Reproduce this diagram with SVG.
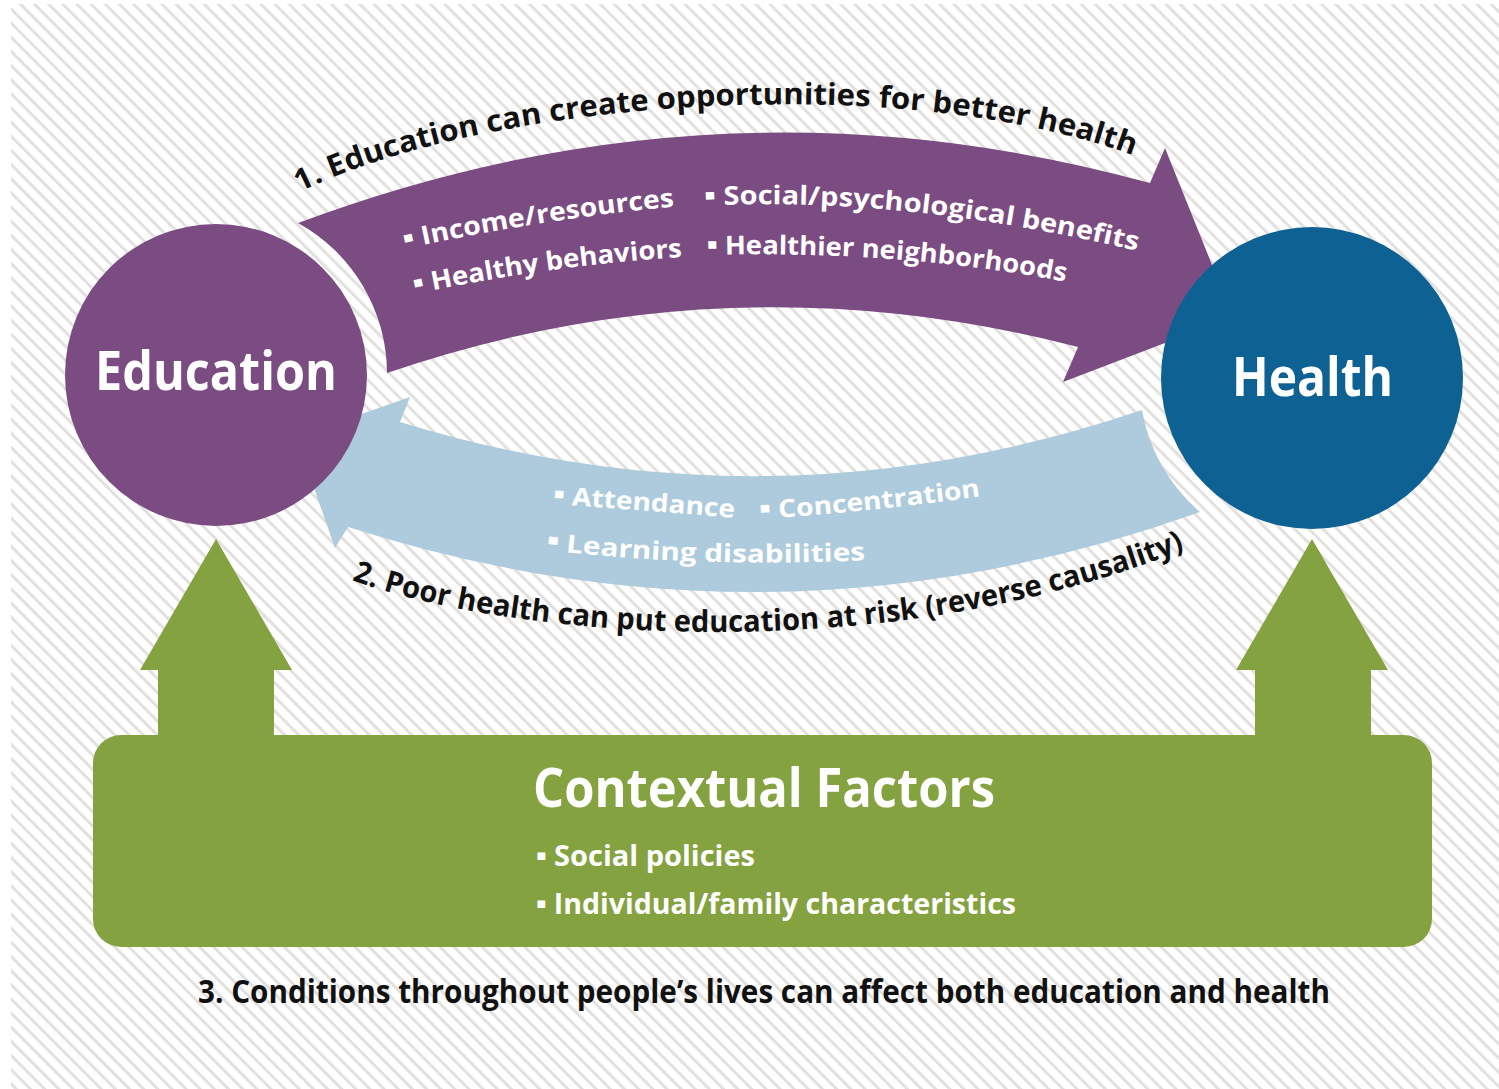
<svg xmlns="http://www.w3.org/2000/svg" width="1499" height="1089" viewBox="0 0 1499 1089">
<style>
  .t { font-family: "Open Sans", "Noto Sans", "DejaVu Sans", sans-serif; font-weight: 700; }
  .w { fill: #ffffff; }
  .k { fill: #111111; }
  .b { font-size: 15px; font-family: "DejaVu Sans", sans-serif; }
  .purple { fill: #7b4c81; }
  .blue { fill: #0e6193; }
  .light { fill: #adcbdc; }
  .green { fill: #84a23f; }
</style>
<defs>
  <pattern id="stripes" patternUnits="userSpaceOnUse" width="10" height="10" patternTransform="rotate(-45)">
    <rect x="0" y="0" width="3" height="10" fill="#e3e1df"/>
  </pattern>
  <path id="p1" d="M300,192 C 480,102 900,66 1140,158"/>
  <path id="p2" d="M352,580 C 500,635 880,675 1195,545"/>
  <path id="pa1" d="M405,249 Q 540,219 680,206"/>
  <path id="pa2" d="M705,206 Q 900,195 1138,251"/>
  <path id="pa3" d="M415,294 Q 550,265 684,257"/>
  <path id="pa4" d="M707,255 Q 900,250 1067,282"/>
  <path id="pb1" d="M553,504 Q 640,510 736,518"/>
  <path id="pb2" d="M760,519 Q 870,512 983,496"/>
  <path id="pb3" d="M546,550 Q 700,568 867,560"/>
</defs>
<rect x="0" y="0" width="1499" height="1089" fill="#ffffff"/>
<rect x="11" y="4" width="1488" height="1085" fill="url(#stripes)"/>

<g id="connectors">
  <g id="arrow-education-health">
    <path class="purple" d="M298,223 Q 720,65 1150,183 L 1165,148 L 1233,317 L 1063,382 L 1078,347 Q 728,256 387,373 A 172,172 0 0 0 298,223 Z"/>
    <text class="t w" font-size="26"><textPath href="#pa1" textLength="273" lengthAdjust="spacingAndGlyphs"><tspan class="b" dy="-6">▪</tspan><tspan dy="6"> Income/resources</tspan></textPath></text>
    <text class="t w" font-size="26"><textPath href="#pa2" textLength="436" lengthAdjust="spacingAndGlyphs"><tspan class="b" dy="-6">▪</tspan><tspan dy="6"> Social/psychological benefits</tspan></textPath></text>
    <text class="t w" font-size="26"><textPath href="#pa3" textLength="270" lengthAdjust="spacingAndGlyphs"><tspan class="b" dy="-6">▪</tspan><tspan dy="6"> Healthy behaviors</tspan></textPath></text>
    <text class="t w" font-size="26"><textPath href="#pa4" textLength="360" lengthAdjust="spacingAndGlyphs"><tspan class="b" dy="-6">▪</tspan><tspan dy="6"> Healthier neighborhoods</tspan></textPath></text>
    <text class="t k" font-size="30"><textPath href="#p1" textLength="850" lengthAdjust="spacingAndGlyphs">1. Education can create opportunities for better health</textPath></text>
  </g>
  <g id="arrow-health-education">
    <path class="light" d="M296,437 L 410,397 L 400,422 Q 771,536 1142,410 A 173,173 0 0 0 1200,512 Q 776,664 348,527 L 335,548 Z"/>
    <text class="t w" font-size="25"><textPath href="#pb1" textLength="182" lengthAdjust="spacingAndGlyphs"><tspan class="b" dy="-6">▪</tspan><tspan dy="6"> Attendance</tspan></textPath></text>
    <text class="t w" font-size="25"><textPath href="#pb2" textLength="222" lengthAdjust="spacingAndGlyphs"><tspan class="b" dy="-6">▪</tspan><tspan dy="6"> Concentration</tspan></textPath></text>
    <text class="t w" font-size="25"><textPath href="#pb3" textLength="320" lengthAdjust="spacingAndGlyphs"><tspan class="b" dy="-6">▪</tspan><tspan dy="6"> Learning disabilities</tspan></textPath></text>
    <text class="t k" font-size="30"><textPath href="#p2" textLength="848" lengthAdjust="spacingAndGlyphs">2. Poor health can put education at risk (reverse causality)</textPath></text>
  </g>
  <g id="arrow-context-education">
    <polygon class="green" points="158,737 158,670 140,670 216,539 292,670 274,670 274,737"/>
  </g>
  <g id="arrow-context-health">
    <polygon class="green" points="1255,737 1255,670 1236,670 1312,539 1388,670 1371,670 1371,737"/>
  </g>
</g>

<g id="node-education">
  <circle class="purple" cx="216" cy="375" r="151"/>
  <text class="t w" x="95" y="390" font-size="53" textLength="242" lengthAdjust="spacingAndGlyphs">Education</text>
</g>

<g id="node-health">
  <circle class="blue" cx="1312" cy="378" r="151"/>
  <text class="t w" x="1232" y="396" font-size="53" textLength="161" lengthAdjust="spacingAndGlyphs">Health</text>
</g>

<g id="node-contextual">
  <rect class="green" x="93" y="735" width="1339" height="212" rx="28" ry="28"/>
  <text class="t w" x="533" y="807" font-size="53" textLength="462" lengthAdjust="spacingAndGlyphs">Contextual Factors</text>
  <text class="t w" x="536" y="866" font-size="28" textLength="219" lengthAdjust="spacingAndGlyphs"><tspan class="b" dy="-6">▪</tspan><tspan dy="6"> Social policies</tspan></text>
  <text class="t w" x="536" y="914" font-size="28" textLength="480" lengthAdjust="spacingAndGlyphs"><tspan class="b" dy="-6">▪</tspan><tspan dy="6"> Individual/family characteristics</tspan></text>
</g>

<text class="t k" x="198" y="1003" font-size="32" textLength="1132" lengthAdjust="spacingAndGlyphs">3. Conditions throughout people’s lives can affect both education and health</text>
</svg>
